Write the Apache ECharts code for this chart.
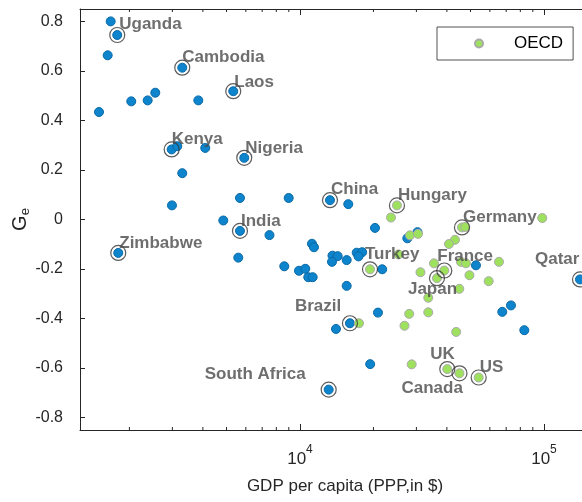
<!DOCTYPE html>
<html>
<head>
<meta charset="utf-8">
<script src="https://cdn.jsdelivr.net/npm/echarts@6/dist/echarts.min.js"></script>
<style>
  html, body { margin: 0; padding: 0; background: #fff; }
  #chart { width: 582px; height: 502px; }
</style>
</head>
<body>
<div id="chart"></div>
<script>
// non-OECD countries: GDP per capita (PPP, $) and G_e, '' = no label
const otherGdp = [1676, 1783, 1629, 1501, 2035, 2376, 2553, 3831, 3293, 5328,
  2980, 3141, 4091, 5911, 3293, 2988, 5677, 4850, 5677, 5587,
  1800, 8989, 7499, 8625, 9906, 10513, 10815, 11272, 11199, 11412,
  13274, 15774, 13588, 14273, 13525, 15538, 17079, 17984, 17372, 15538,
  21724, 20296, 27535, 30307, 52639, 140475, 73229, 67471, 83063, 20874,
  16026, 14048, 19398, 13111]
const otherGe = [0.80, 0.745, 0.663, 0.434, 0.477, 0.481, 0.512, 0.481, 0.613, 0.518,
  0.283, 0.296, 0.289, 0.249, 0.187, 0.057, 0.087, -0.004, -0.046, -0.154,
  -0.135, 0.087, -0.063, -0.189, -0.207, -0.199, -0.233, -0.233, -0.098, -0.112,
  0.078, 0.062, -0.146, -0.148, -0.171, -0.164, -0.134, -0.132, -0.149, -0.268,
  -0.201, -0.034, -0.076, -0.051, -0.185, -0.242, -0.347, -0.373, -0.447, -0.376,
  -0.419, -0.442, -0.584, -0.687]
const otherNames = ['', 'Uganda', '', '', '', '', '', '', 'Cambodia', 'Laos',
  'Kenya', '', '', 'Nigeria', '', '', '', '', 'India', '',
  'Zimbabwe', '', '', '', '', '', '', '', '', '',
  'China', '', '', '', '', '', '', '', '', '',
  '', '', '', '', '', 'Qatar', '', '', '', '',
  'Brazil', '', '', 'South Africa']

// OECD countries
const oecdGdp = [19362, 24969, 23605, 28240, 30448, 25327, 35416, 31177, 39030, 36424,
  33556, 46120, 47584, 98402, 43175, 40800, 45686, 47892, 65404, 49506,
  59339, 44966, 28027, 33556, 26814, 43676, 17452, 28698, 40149, 45049,
  53999]
const oecdGe = [-0.201, 0.057, 0.008, -0.064, -0.058, -0.141, -0.177, -0.213, -0.206, -0.237,
  -0.316, -0.032, -0.030, 0.006, -0.082, -0.099, -0.171, -0.177, -0.171, -0.225,
  -0.249, -0.280, -0.381, -0.375, -0.429, -0.454, -0.419, -0.585, -0.604, -0.621,
  -0.638]
const oecdNames = ['Turkey', 'Hungary', '', '', '', '', '', '', 'France', 'Japan',
  '', 'Germany', '', '', '', '', '', '', '', '',
  '', '', '', '', '', '', '', '', 'UK', 'Canada',
  'US']

// log axis minor ticks
const minorTicks = [2000, 3000, 4000, 5000, 6000, 7000, 8000, 9000,
  20000, 30000, 40000, 50000, 60000, 70000, 80000, 90000]

const xMin = 1254.6, xMax = 186450
const yMin = -0.85, yMax = 0.85

// where each country label sits relative to its point (px)
const labelOffset = {
  Uganda: [2, -11], Cambodia: [0, -10], Laos: [1, -9], Kenya: [0, -10],
  Nigeria: [1, -10], India: [1, -10], Zimbabwe: [1, -10], China: [1, -11],
  Hungary: [1, -10], Germany: [1, -10], Turkey: [-5, -15], France: [-7, -14],
  Japan: [-29, 11], Qatar: [-45, -20], Brazil: [-55, -17], 'South Africa': [-124, -15],
  UK: [-17, -15], US: [1, -10], Canada: [-58, 15]
}

const font = "'Liberation Sans', Arial, Helvetica, sans-serif"
const axisColor = '#262626'

const otherPts = otherGdp.map((g, i) => [g, otherGe[i]])
const oecdPts = oecdGdp.map((g, i) => [g, oecdGe[i]])

const marked = []
otherNames.forEach((n, i) => { if (n) marked.push({ name: n, value: otherPts[i] }) })
oecdNames.forEach((n, i) => { if (n) marked.push({ name: n, value: oecdPts[i] }) })
marked.forEach(d => { d.label = { offset: labelOffset[d.name] } })

const chart = echarts.init(document.getElementById('chart'))

const option = {
  animation: false,
  textStyle: { fontFamily: font },
  grid: { left: 80, right: -28, top: 9, bottom: 72, containLabel: false, outerBoundsMode: 'none' },
  legend: {
    data: ['OECD'],
    left: 437,
    top: 27,
    padding: [8, 10, 8, 37],
    itemWidth: 60,
    itemHeight: 8,
    icon: 'circle',
    borderColor: axisColor,
    borderWidth: 0.8,
    borderRadius: 0,
    textStyle: { fontSize: 17, color: '#000', fontFamily: font }
  },
  xAxis: [
    {
      type: 'log',
      logBase: 10,
      min: xMin,
      max: xMax,
      position: 'bottom',
      axisLine: { onZero: false, lineStyle: { color: axisColor, width: 1 } },
      axisTick: { inside: true, length: 6, lineStyle: { color: axisColor } },
      splitLine: { show: false },
      axisLabel: {
        margin: 14,
        showMinLabel: false,
        showMaxLabel: false,
        formatter: v => '{b|10}{s|' + Math.round(Math.log10(v)) + '}',
        rich: {
          b: { fontSize: 17, color: axisColor, fontFamily: font, lineHeight: 24, verticalAlign: 'bottom' },
          s: { fontSize: 12, color: axisColor, fontFamily: font, lineHeight: 14, verticalAlign: 'top' }
        }
      },
      name: 'GDP per capita (PPP,in $)',
      nameLocation: 'middle',
      nameGap: 48,
      nameMoveOverlap: false,
      nameTextStyle: { fontSize: 17, color: axisColor, fontFamily: font }
    },
    {
      type: 'log',
      logBase: 10,
      min: xMin,
      max: xMax,
      position: 'top',
      axisLine: { onZero: false, lineStyle: { color: axisColor, width: 1 } },
      axisTick: { inside: true, length: 6, lineStyle: { color: axisColor } },
      axisLabel: { show: false },
      splitLine: { show: false }
    }
  ],
  yAxis: {
    type: 'value',
    min: yMin,
    max: yMax,
    splitNumber: 8,
    axisLine: { show: true, onZero: false, lineStyle: { color: axisColor, width: 1 } },
    axisTick: { show: true, inside: true, length: 5, lineStyle: { color: axisColor } },
    splitLine: { show: false },
    axisLabel: {
      margin: 17,
      showMinLabel: false,
      showMaxLabel: false,
      fontSize: 16,
      color: axisColor,
      formatter: v => (Math.abs(v) < 1e-9 ? '0' : v.toFixed(1))
    },
    name: 'G{s|e}',
    nameLocation: 'middle',
    nameGap: 48,
    nameMoveOverlap: false,
    nameTextStyle: {
      fontSize: 20,
      color: axisColor,
      fontFamily: font,
      lineHeight: 24,
      rich: {
        s: { fontSize: 13, color: axisColor, fontFamily: font, lineHeight: 14, verticalAlign: 'bottom' }
      }
    }
  },
  series: [
    {
      name: 'minor ticks',
      type: 'custom',
      silent: true,
      clip: false,
      data: minorTicks.map(v => [v, 0]),
      renderItem: (params, api) => {
        const b = api.coord([api.value(0), yMin])
        const t = api.coord([api.value(0), yMax])
        const style = { stroke: axisColor, lineWidth: 1 }
        return {
          type: 'group',
          children: [
            { type: 'line', shape: { x1: b[0], y1: b[1], x2: b[0], y2: b[1] - 3 }, style },
            { type: 'line', shape: { x1: t[0], y1: t[1], x2: t[0], y2: t[1] + 3 }, style }
          ]
        }
      }
    },
    {
      name: 'non-OECD',
      type: 'scatter',
      data: otherPts,
      symbolSize: 9,
      z: 3,
      itemStyle: { color: '#0d84cb', borderColor: '#0a69a6', borderWidth: 1, opacity: 1 }
    },
    {
      name: 'OECD',
      type: 'scatter',
      data: oecdPts,
      symbolSize: 9,
      z: 4,
      itemStyle: { color: '#9ee15e', borderColor: '#a9a9a9', borderWidth: 1, opacity: 1 }
    },
    {
      name: 'highlight',
      type: 'scatter',
      data: marked,
      symbolSize: 15,
      z: 5,
      itemStyle: { color: 'rgba(0,0,0,0)', borderColor: '#333', borderWidth: 1.2 },
      label: {
        show: true,
        position: 'inside',
        align: 'left',
        verticalAlign: 'middle',
        formatter: '{b}',
        fontSize: 17,
        fontWeight: 'bold',
        color: '#4a4a4a',
        fontFamily: font
      },
      emphasis: { disabled: true }
    }
  ]
}

chart.setOption(option)
</script>
</body>
</html>
